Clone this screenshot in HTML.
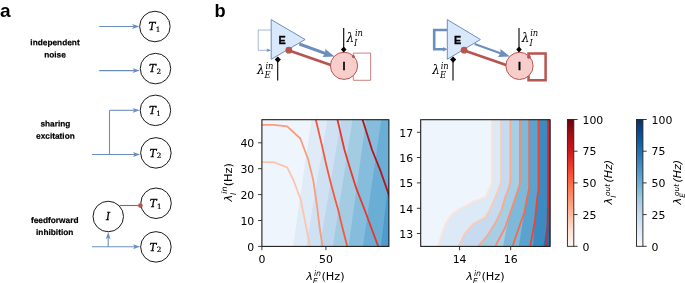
<!DOCTYPE html>
<html><head><meta charset="utf-8"><title>figure</title>
<style>
html,body{margin:0;padding:0;background:#fff;}
body{width:685px;height:283px;overflow:hidden;}
svg{display:block;}
.hb{font-family:"Liberation Sans",sans-serif;font-weight:bold;fill:#000;}
.dj{font-family:"DejaVu Sans","Liberation Sans",sans-serif;fill:#000;}
.dji{font-family:"DejaVu Sans","Liberation Sans",sans-serif;font-style:italic;fill:#000;}
.cm{font-family:"DejaVu Serif","Liberation Serif",serif;font-style:italic;fill:#000;}
.cmr{font-family:"DejaVu Serif","Liberation Serif",serif;fill:#000;}
</style></head><body>
<svg width="685" height="283" viewBox="0 0 685 283">
<defs>
<clipPath id="c1"><rect x="261.9" y="119.7" width="127" height="126.7"/></clipPath>
<clipPath id="c2"><rect x="420.7" y="119.7" width="129.4" height="126.7"/></clipPath>
<linearGradient id="reds" x1="0" y1="1" x2="0" y2="0">
<stop offset="0" stop-color="#fff5f0"/><stop offset="0.125" stop-color="#fee0d2"/><stop offset="0.25" stop-color="#fcbba1"/><stop offset="0.375" stop-color="#fc9272"/><stop offset="0.5" stop-color="#fb6a4a"/><stop offset="0.625" stop-color="#ef3b2c"/><stop offset="0.75" stop-color="#cb181d"/><stop offset="0.875" stop-color="#a50f15"/><stop offset="1" stop-color="#67000d"/>
</linearGradient>
<linearGradient id="blues" x1="0" y1="1" x2="0" y2="0">
<stop offset="0" stop-color="#f7fbff"/><stop offset="0.125" stop-color="#deebf7"/><stop offset="0.25" stop-color="#c6dbef"/><stop offset="0.375" stop-color="#9ecae1"/><stop offset="0.5" stop-color="#6baed6"/><stop offset="0.625" stop-color="#4292c6"/><stop offset="0.75" stop-color="#2171b5"/><stop offset="0.875" stop-color="#08519c"/><stop offset="1" stop-color="#08306b"/>
</linearGradient>
</defs>
<rect width="685" height="283" fill="#fff"/>

<text class="hb" x="0.1" y="16.8" font-size="19">a</text>
<text class="hb" x="214.4" y="16.7" font-size="18.2">b</text>
<circle cx="154.9" cy="26.5" r="15.25" fill="#fff" stroke="#1a1a1a" stroke-width="1"/>
<text class="cm" x="148.5" y="30.2" font-size="10.4" stroke="#000" stroke-width="0.3">T</text><text class="cmr" x="155.8" y="31.8" font-size="7.2" stroke="#000" stroke-width="0.2">1</text>
<path d="M99.2 26.5H134.4" stroke="#6c8ebf" stroke-width="1.1" fill="none"/>
<path d="M139.4 26.5L132.20000000000002 24.1L133.8 26.5L132.20000000000002 28.9Z" fill="#6c8ebf"/>
<circle cx="155.5" cy="68.6" r="15.25" fill="#fff" stroke="#1a1a1a" stroke-width="1"/>
<text class="cm" x="149.1" y="72.3" font-size="10.4" stroke="#000" stroke-width="0.3">T</text><text class="cmr" x="156.4" y="73.89999999999999" font-size="7.2" stroke="#000" stroke-width="0.2">2</text>
<path d="M99.2 70.6H134.9" stroke="#6c8ebf" stroke-width="1.1" fill="none"/>
<path d="M139.9 70.6L132.70000000000002 68.19999999999999L134.3 70.6L132.70000000000002 73.0Z" fill="#6c8ebf"/>
<text class="hb" transform="translate(55 45.3) rotate(0.05)" font-size="8.3" text-anchor="middle" stroke="#000" stroke-width="0.2">independent</text>
<text class="hb" transform="translate(55 57.449999999999996) rotate(0.05)" font-size="8.3" text-anchor="middle" stroke="#000" stroke-width="0.2">noise</text>
<circle cx="155.45" cy="110.35" r="15.25" fill="#fff" stroke="#1a1a1a" stroke-width="1"/>
<text class="cm" x="149.04999999999998" y="114.05" font-size="10.4" stroke="#000" stroke-width="0.3">T</text><text class="cmr" x="156.35" y="115.64999999999999" font-size="7.2" stroke="#000" stroke-width="0.2">1</text>
<circle cx="155.9" cy="152.9" r="15.25" fill="#fff" stroke="#1a1a1a" stroke-width="1"/>
<text class="cm" x="149.5" y="156.6" font-size="10.4" stroke="#000" stroke-width="0.3">T</text><text class="cmr" x="156.8" y="158.20000000000002" font-size="7.2" stroke="#000" stroke-width="0.2">2</text>
<path d="M109.5 154.5V110.3" stroke="#6c8ebf" stroke-width="1.1" fill="none"/>
<path d="M109.5 110.3H134.9" stroke="#6c8ebf" stroke-width="1.1" fill="none"/>
<path d="M139.9 110.3L132.70000000000002 107.89999999999999L134.3 110.3L132.70000000000002 112.7Z" fill="#6c8ebf"/>
<path d="M92 154.5H135.2" stroke="#6c8ebf" stroke-width="1.1" fill="none"/>
<path d="M140.2 154.5L133.0 152.1L134.6 154.5L133.0 156.9Z" fill="#6c8ebf"/>
<text class="hb" transform="translate(55.4 126.5) rotate(0.05)" font-size="8.3" text-anchor="middle" stroke="#000" stroke-width="0.2">sharing</text>
<text class="hb" transform="translate(55.4 138.65) rotate(0.05)" font-size="8.3" text-anchor="middle" stroke="#000" stroke-width="0.2">excitation</text>
<circle cx="156.05" cy="203.25" r="15.25" fill="#fff" stroke="#1a1a1a" stroke-width="1"/>
<text class="cm" x="149.65" y="206.95" font-size="10.4" stroke="#000" stroke-width="0.3">T</text><text class="cmr" x="156.95000000000002" y="208.55" font-size="7.2" stroke="#000" stroke-width="0.2">1</text>
<circle cx="155.9" cy="246.9" r="15.25" fill="#fff" stroke="#1a1a1a" stroke-width="1"/>
<text class="cm" x="149.5" y="250.6" font-size="10.4" stroke="#000" stroke-width="0.3">T</text><text class="cmr" x="156.8" y="252.20000000000002" font-size="7.2" stroke="#000" stroke-width="0.2">2</text>
<circle cx="108.25" cy="216.5" r="15.25" fill="#fff" stroke="#1a1a1a" stroke-width="1"/>
<text class="cm" x="105.9" y="220.3" font-size="10.4" stroke="#000" stroke-width="0.3">I</text>
<path d="M119.5 205.5H140" stroke="#b85450" stroke-width="1.1" fill="none"/><circle cx="140.4" cy="205.6" r="2.3" fill="#b85450"/>
<path d="M92 246.7H135.2" stroke="#6c8ebf" stroke-width="1.1" fill="none"/>
<path d="M140.2 246.7L133.0 244.29999999999998L134.6 246.7L133.0 249.1Z" fill="#6c8ebf"/>
<path d="M108.2 246.7V237" stroke="#6c8ebf" stroke-width="1.1" fill="none"/>
<path d="M108.2 232L105.8 239.2L108.2 237.6L110.60000000000001 239.2Z" fill="#6c8ebf"/>
<text class="hb" transform="translate(54.7 222.9) rotate(0.05)" font-size="8.3" text-anchor="middle" stroke="#000" stroke-width="0.2">feedforward</text>
<text class="hb" transform="translate(54.7 235.05) rotate(0.05)" font-size="8.3" text-anchor="middle" stroke="#000" stroke-width="0.2">inhibition</text>
<g transform="translate(0 0)">
<path d="M271.2 30H258.2V50.3H268" stroke="#6c8ebf" stroke-width="0.85" fill="none" opacity="0.75"/>
<path d="M271.2 50.3L266.4 48.6L267.5 50.3L266.4 52Z" fill="#6c8ebf"/>
<path d="M353.3 74V80.3H370.6V53.1H353.3V56" stroke="#b85450" stroke-width="0.9" fill="none" opacity="0.8"/>
<path d="M277.7 80.5V60" stroke="#000" stroke-width="1.1" fill="none"/>
<path d="M343.7 28.1V49" stroke="#000" stroke-width="1.1" fill="none"/>
<path d="M299.3 44L325.8 53.6" stroke="#6c8ebf" stroke-width="3" fill="none"/>
<path d="M334.6 56.6L322.6 56.9L325.2 53.2L325.2 48.9Z" fill="#6c8ebf"/>
<path d="M288.3 50.2L331.5 65.2" stroke="#b85450" stroke-width="2.8" fill="none"/>
<path d="M271.2 19.6L305.1 39.5L271.2 59.3Z" fill="#dae8fc" stroke="#6c8ebf" stroke-width="1"/>
<circle cx="344.0" cy="65.8" r="13.6" fill="#f8cecc" stroke="#b85450" stroke-width="1"/>
<circle cx="288.8" cy="50.2" r="3.4" fill="#b85450"/>
<circle cx="353.4" cy="56.6" r="1.5" fill="#b85450"/>
<path d="M277.8 56.5L280.9 59.6L277.8 62.7L274.7 59.6Z" fill="#000"/>
<path d="M343.7 46.6L346.5 49.5L343.7 52.4L340.9 49.5Z" fill="#000"/>
<text class="hb" x="278.6" y="44" font-size="10.8" stroke="#000" stroke-width="0.3">E</text>
<text class="hb" x="342.6" y="69.8" font-size="10.8" stroke="#000" stroke-width="0.3">I</text>
<text class="cm" x="257" y="74.2" font-size="12">λ</text>
<text class="cm" x="265.4" y="68.60000000000001" font-size="8.4">in</text>
<text class="cm" x="264.6" y="78.0" font-size="8.4">E</text>
<text class="cm" x="346.5" y="42" font-size="12">λ</text>
<text class="cm" x="354.9" y="36.4" font-size="8.4">in</text>
<text class="cm" x="354.1" y="45.8" font-size="8.4">I</text>
</g>
<g transform="translate(175.3 0)">
<path d="M272 30H258.9V49.2H269" stroke="#6c8ebf" stroke-width="2.6" fill="none"/>
<path d="M353.2 74V80.3H370.3V53.4H353.2V57" stroke="#b85450" stroke-width="2.5" fill="none"/>
<path d="M277.7 80.5V60" stroke="#000" stroke-width="1.1" fill="none"/>
<path d="M343.7 28.1V49" stroke="#000" stroke-width="1.1" fill="none"/>
<path d="M299.3 44L325.8 53.6" stroke="#6c8ebf" stroke-width="2.1" fill="none"/>
<path d="M334.6 56.6L322.6 56.9L325.2 53.2L325.2 48.9Z" fill="#6c8ebf"/>
<path d="M288.3 50.2L331.5 65.2" stroke="#b85450" stroke-width="2.8" fill="none"/>
<path d="M272.0 19.6L305.1 39.5L272.0 59.3Z" fill="#dae8fc" stroke="#6c8ebf" stroke-width="1"/>
<circle cx="344.2" cy="65.9" r="13.6" fill="#f8cecc" stroke="#b85450" stroke-width="1"/>
<circle cx="288.8" cy="50.2" r="3.4" fill="#b85450"/>
<circle cx="353.6" cy="56.8" r="1.9" fill="#b85450"/>
<path d="M272.2 49.2L267.8 46.9V51.5Z" fill="#6c8ebf"/>
<path d="M277.8 56.5L280.9 59.6L277.8 62.7L274.7 59.6Z" fill="#000"/>
<path d="M343.7 46.6L346.5 49.5L343.7 52.4L340.9 49.5Z" fill="#000"/>
<text class="hb" x="278.6" y="44" font-size="10.8" stroke="#000" stroke-width="0.3">E</text>
<text class="hb" x="342.6" y="69.8" font-size="10.8" stroke="#000" stroke-width="0.3">I</text>
<text class="cm" x="257" y="74.2" font-size="12">λ</text>
<text class="cm" x="265.4" y="68.60000000000001" font-size="8.4">in</text>
<text class="cm" x="264.6" y="78.0" font-size="8.4">E</text>
<text class="cm" x="346.5" y="42" font-size="12">λ</text>
<text class="cm" x="354.9" y="36.4" font-size="8.4">in</text>
<text class="cm" x="354.1" y="45.8" font-size="8.4">I</text>
</g>
<g clip-path="url(#c1)">
<rect x="261.9" y="119.7" width="127.0" height="126.7" fill="#eef5fc"/>
<path d="M293 246.4L311.5 119.7H400V246.4Z" fill="#dfebf7"/>
<path d="M306.2 246.4L327.4 119.7H400V246.4Z" fill="#cfe1f2"/>
<path d="M319.7 246.4L341.2 119.7H400V246.4Z" fill="#bcd7eb"/>
<path d="M332.8 246.4L352.5 119.7H400V246.4Z" fill="#a3cce3"/>
<path d="M348.5 246.4L366 119.7H400V246.4Z" fill="#87bddc"/>
<path d="M362.9 246.4L381.2 119.7H400V246.4Z" fill="#6aaed6"/>
<path d="M381 246.4L395.5 119.7H400V246.4Z" fill="#4f9bcb"/>
<path d="M262 162.2L273.6 162.2L287.2 167.4L293.4 180L300.8 199.8L305.7 224.6L310 246.3" stroke="#fcc4ad" stroke-width="1.8" fill="none" stroke-linejoin="round"/>
<path d="M262 124.8L273.6 124.8L287.2 126.3L300.3 138.5L308.2 159.5L313.2 180L316.9 204.8L319.9 229.5L322.6 246.3" stroke="#fb9b7c" stroke-width="1.8" fill="none" stroke-linejoin="round"/>
<path d="M315.8 119.5L321.5 143.6L326.3 165L330.5 182L335 198.8L338.2 210L342 226L347.3 246.4" stroke="#f6583e" stroke-width="1.8" fill="none" stroke-linejoin="round"/>
<path d="M337.4 119.5L344.5 150L350.9 171.2L356.2 188.2L364.7 210L378.2 246.4" stroke="#ea3729" stroke-width="1.8" fill="none" stroke-linejoin="round"/>
<path d="M362.5 119.5L372.1 150L380.6 171.2L388 192.4L395 212" stroke="#b91419" stroke-width="1.8" fill="none" stroke-linejoin="round"/>
</g>
<rect x="261.9" y="119.7" width="127.0" height="126.7" fill="none" stroke="#151515" stroke-width="1.05"/>
<path d="M261.9 246.4h-3.8" stroke="#222" stroke-width="0.9"/>
<text class="dj" transform="translate(254.3 250.6) scale(1.07 1)" font-size="10.2" text-anchor="end">0</text>
<path d="M261.9 220.5h-3.8" stroke="#222" stroke-width="0.9"/>
<text class="dj" transform="translate(254.3 224.7) scale(1.07 1)" font-size="10.2" text-anchor="end">10</text>
<path d="M261.9 194.6h-3.8" stroke="#222" stroke-width="0.9"/>
<text class="dj" transform="translate(254.3 198.8) scale(1.07 1)" font-size="10.2" text-anchor="end">20</text>
<path d="M261.9 168.7h-3.8" stroke="#222" stroke-width="0.9"/>
<text class="dj" transform="translate(254.3 172.9) scale(1.07 1)" font-size="10.2" text-anchor="end">30</text>
<path d="M261.9 142.8h-3.8" stroke="#222" stroke-width="0.9"/>
<text class="dj" transform="translate(254.3 147.0) scale(1.07 1)" font-size="10.2" text-anchor="end">40</text>
<path d="M261.9 246.4v3.8" stroke="#222" stroke-width="0.9"/>
<text class="dj" transform="translate(261.9 263.3) scale(1.07 1)" font-size="10.2" text-anchor="middle">0</text>
<path d="M325.9 246.4v3.8" stroke="#222" stroke-width="0.9"/>
<text class="dj" transform="translate(325.9 263.3) scale(1.07 1)" font-size="10.2" text-anchor="middle">50</text>
<g transform="translate(305.4 280)"><text class="dji" x="0.8" y="0" font-size="11.3">λ</text><text class="dji" x="8.5" y="-4.1" font-size="7.9">in</text><text class="dji" x="7.4" y="4.4" font-size="7.9">E</text><text class="dj" x="16.0" y="0" font-size="11.3">(Hz)</text></g>
<g transform="translate(231.5 202.3) rotate(-90)"><text class="dji" x="0.8" y="0" font-size="11.3">λ</text><text class="dji" x="8.5" y="-4.1" font-size="7.9">in</text><text class="dji" x="7.4" y="4.4" font-size="7.9">I</text><text class="dj" x="16.0" y="0" font-size="11.3">(Hz)</text></g>
<g clip-path="url(#c2)">
<rect x="420.7" y="119.7" width="129.40000000000003" height="126.7" fill="#eef5fc"/>
<path d="M491.8 119.5L491.8 182.5L490.3 187L485.5 197.1L472.7 201.8L468.4 204.5L460.5 208.2L452.5 213.7L446.1 222.5L441.4 235.2L438.3 246.4H560V119.5Z" fill="#dce9f6"/>
<path d="M501.1 119.5L501.1 182L498.3 190L493 202.4L489.9 209.8L485.5 217.5L473.2 224.1L464.4 234.4L458.7 246.4H560V119.5Z" fill="#c6dbef"/>
<path d="M510.4 119.5L510.4 182L508 190L505.6 196L503 204.8L501 211.4L495.5 222.5L487.5 235.2L478.3 246.4H560V119.5Z" fill="#a6cee4"/>
<path d="M519.9 119.5L519.9 184L517.6 191L513.3 204.1L509 216.3L503 246.4H560V119.5Z" fill="#7fb9da"/>
<path d="M529.2 119.5L529.2 188L527.7 195L524.2 212.7L518.7 246.4H560V119.5Z" fill="#5ba3cf"/>
<path d="M538.5 119.5L538.5 190L537.4 196L534.8 221.5L533 246.4H560V119.5Z" fill="#3b8bc2"/>
<path d="M548.1 119.5L548.1 218L543.4 246.4H560V119.5Z" fill="#2070b4"/>
<path d="M491.8 119.5L491.8 182.5L490.3 187L485.5 197.1L472.7 201.8L468.4 204.5L460.5 208.2L452.5 213.7L446.1 222.5L441.4 235.2L438.3 246.4" stroke="#fee3d6" stroke-width="1.8" fill="none" stroke-linejoin="round"/>
<path d="M501.1 119.5L501.1 182L498.3 190L493 202.4L489.9 209.8L485.5 217.5L473.2 224.1L464.4 234.4L458.7 246.4" stroke="#fdc9b3" stroke-width="1.8" fill="none" stroke-linejoin="round"/>
<path d="M510.4 119.5L510.4 182L508 190L505.6 196L503 204.8L501 211.4L495.5 222.5L487.5 235.2L478.3 246.4" stroke="#fcaa8d" stroke-width="1.8" fill="none" stroke-linejoin="round"/>
<path d="M519.9 119.5L519.9 184L517.6 191L513.3 204.1L509 216.3L505 228L501.2 235L495.3 246.4" stroke="#fc8a6a" stroke-width="1.8" fill="none" stroke-linejoin="round"/>
<path d="M529.2 119.5L529.2 188L527.7 195L524.2 212.7L518 230.3L512.5 246.4" stroke="#f6694b" stroke-width="1.8" fill="none" stroke-linejoin="round"/>
<path d="M538.5 119.5L538.5 190L537.4 196L534.8 221.5L530.2 246.4" stroke="#ee4533" stroke-width="1.8" fill="none" stroke-linejoin="round"/>
<path d="M548.1 119.5L548.1 200L547 246.4" stroke="#da2825" stroke-width="1.8" fill="none" stroke-linejoin="round"/>
</g>
<rect x="420.7" y="119.7" width="129.40000000000003" height="126.7" fill="none" stroke="#151515" stroke-width="1.05"/>
<path d="M420.7 132.3h-3.8" stroke="#222" stroke-width="0.9"/>
<text class="dj" transform="translate(413.2 136.5) scale(1.07 1)" font-size="10.2" text-anchor="end">17</text>
<path d="M420.7 157.5h-3.8" stroke="#222" stroke-width="0.9"/>
<text class="dj" transform="translate(413.2 161.7) scale(1.07 1)" font-size="10.2" text-anchor="end">16</text>
<path d="M420.7 182.9h-3.8" stroke="#222" stroke-width="0.9"/>
<text class="dj" transform="translate(413.2 187.1) scale(1.07 1)" font-size="10.2" text-anchor="end">15</text>
<path d="M420.7 208.3h-3.8" stroke="#222" stroke-width="0.9"/>
<text class="dj" transform="translate(413.2 212.5) scale(1.07 1)" font-size="10.2" text-anchor="end">14</text>
<path d="M420.7 233.5h-3.8" stroke="#222" stroke-width="0.9"/>
<text class="dj" transform="translate(413.2 237.7) scale(1.07 1)" font-size="10.2" text-anchor="end">13</text>
<path d="M459.6 246.4v3.8" stroke="#222" stroke-width="0.9"/>
<text class="dj" transform="translate(459.6 263.3) scale(1.07 1)" font-size="10.2" text-anchor="middle">14</text>
<path d="M510.7 246.4v3.8" stroke="#222" stroke-width="0.9"/>
<text class="dj" transform="translate(510.7 263.3) scale(1.07 1)" font-size="10.2" text-anchor="middle">16</text>
<g transform="translate(465.4 280)"><text class="dji" x="0.8" y="0" font-size="11.3">λ</text><text class="dji" x="8.5" y="-4.1" font-size="7.9">in</text><text class="dji" x="7.4" y="4.4" font-size="7.9">E</text><text class="dj" x="16.0" y="0" font-size="11.3">(Hz)</text></g>
<rect x="567.4" y="119.5" width="6.4" height="126.8" fill="url(#reds)" stroke="#222" stroke-width="0.9"/>
<path d="M573.8 246.3h3.8" stroke="#222" stroke-width="0.9"/>
<text class="dj" transform="translate(582.5 250.5) scale(1.07 1)" font-size="10.2">0</text>
<path d="M573.8 214.6h3.8" stroke="#222" stroke-width="0.9"/>
<text class="dj" transform="translate(582.5 218.8) scale(1.07 1)" font-size="10.2">25</text>
<path d="M573.8 182.9h3.8" stroke="#222" stroke-width="0.9"/>
<text class="dj" transform="translate(582.5 187.1) scale(1.07 1)" font-size="10.2">50</text>
<path d="M573.8 151.2h3.8" stroke="#222" stroke-width="0.9"/>
<text class="dj" transform="translate(582.5 155.4) scale(1.07 1)" font-size="10.2">75</text>
<path d="M573.8 119.5h3.8" stroke="#222" stroke-width="0.9"/>
<text class="dj" transform="translate(582.5 123.7) scale(1.07 1)" font-size="10.2">100</text>
<g transform="translate(612 204.6) rotate(-90)"><text class="dji" x="0" y="0" font-size="11.3">λ</text><text class="dji" x="8.7" y="-2.4" font-size="7.4">out</text><text class="dji" x="6.8" y="4.0" font-size="7.4">I</text><text class="dji" x="22.0" y="0" font-size="11.0">(Hz)</text></g>
<rect x="636.5" y="119.5" width="6.4" height="126.8" fill="url(#blues)" stroke="#222" stroke-width="0.9"/>
<path d="M642.9 246.3h3.8" stroke="#222" stroke-width="0.9"/>
<text class="dj" transform="translate(651.6 250.5) scale(1.07 1)" font-size="10.2">0</text>
<path d="M642.9 214.6h3.8" stroke="#222" stroke-width="0.9"/>
<text class="dj" transform="translate(651.6 218.8) scale(1.07 1)" font-size="10.2">25</text>
<path d="M642.9 182.9h3.8" stroke="#222" stroke-width="0.9"/>
<text class="dj" transform="translate(651.6 187.1) scale(1.07 1)" font-size="10.2">50</text>
<path d="M642.9 151.2h3.8" stroke="#222" stroke-width="0.9"/>
<text class="dj" transform="translate(651.6 155.4) scale(1.07 1)" font-size="10.2">75</text>
<path d="M642.9 119.5h3.8" stroke="#222" stroke-width="0.9"/>
<text class="dj" transform="translate(651.6 123.7) scale(1.07 1)" font-size="10.2">100</text>
<g transform="translate(681.3 204.6) rotate(-90)"><text class="dji" x="0" y="0" font-size="11.3">λ</text><text class="dji" x="8.7" y="-2.4" font-size="7.4">out</text><text class="dji" x="6.8" y="4.0" font-size="7.4">E</text><text class="dji" x="22.0" y="0" font-size="11.0">(Hz)</text></g>
</svg></body></html>
